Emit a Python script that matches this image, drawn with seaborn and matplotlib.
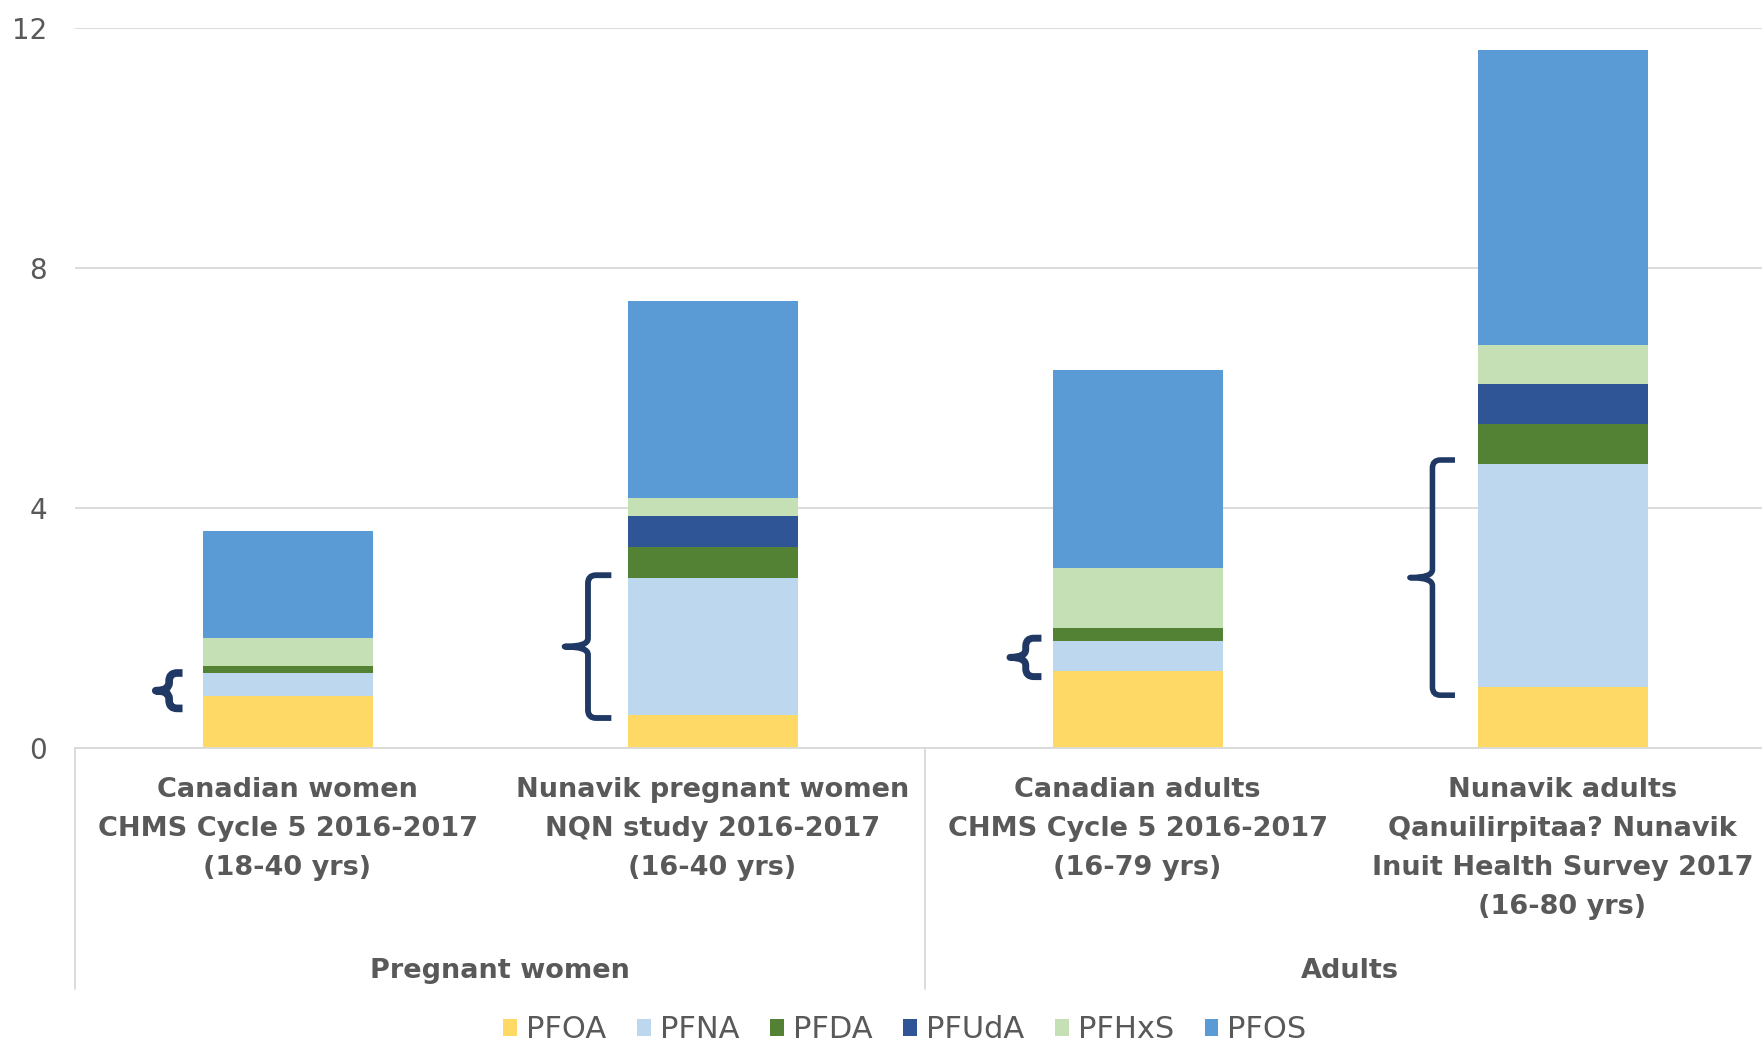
import matplotlib
matplotlib.use("Agg")
import matplotlib.pyplot as plt
import seaborn as sns
import pandas as pd
import numpy as np
from matplotlib.patches import Patch, PathPatch
from matplotlib.path import Path

# data (ng/mL, stacked geometric means)
groups = ["Pregnant women", "Adults"]
group_pos = [0.5, 2.5]
categories = [
    "Canadian women\nCHMS Cycle 5 2016-2017\n(18-40 yrs)",
    "Nunavik pregnant women\nNQN study 2016-2017\n(16-40 yrs)",
    "Canadian adults\nCHMS Cycle 5 2016-2017\n(16-79 yrs)",
    "Nunavik adults\nQanuilirpitaa? Nunavik\nInuit Health Survey 2017\n(16-80 yrs)",
]
compounds = ["PFOA", "PFNA", "PFDA", "PFUdA", "PFHxS", "PFOS"]
pfoa = [0.86, 0.55, 1.29, 1.02]
pfna = [0.39, 2.29, 0.50, 3.71]
pfda = [0.12, 0.51, 0.21, 0.67]
pfuda = [0.0, 0.52, 0.0, 0.66]
pfhxs = [0.47, 0.29, 1.00, 0.65]
pfos = [1.77, 3.29, 3.30, 4.92]
colors = ["#FFD966", "#BDD7EE", "#548235", "#2F5597", "#C5E0B4", "#5B9BD5"]

# curly braces next to the PFNA segment (value range, x offsets from bar centre)
brace_lo = [0.66, 0.50, 1.19, 0.88]
brace_hi = [1.25, 2.88, 1.83, 4.80]
brace_tip = [-0.31, -0.348, -0.30, -0.359]
brace_end = [-0.247, -0.238, -0.226, -0.253]
brace_lw = [5.5, 4.2, 5.0, 4.0]

GRAY = "#595959"
LINE = "#D9D9D9"
NAVY = "#203864"

sns.set_style("white")
plt.rcParams["font.family"] = ["DejaVu Sans"]

values = np.array([pfoa, pfna, pfda, pfuda, pfhxs, pfos])
tops = values.cumsum(axis=0)
rows = []
for k, name in enumerate(compounds):
    for i in range(len(categories)):
        rows.append({"cat": i, "compound": name, "top": tops[k, i]})
df = pd.DataFrame(rows)

fig = plt.figure(figsize=(17.62, 10.43), dpi=100)
ax = fig.add_axes([75 / 1762, 295 / 1043, 1700 / 1762, 720 / 1043])

# stacked bars: draw cumulative totals from the top layer down
for k in range(len(compounds) - 1, -1, -1):
    sub = df[df["compound"] == compounds[k]]
    sns.barplot(data=sub, x="cat", y="top", color=colors[k], width=0.4,
                errorbar=None, linewidth=0, saturation=1, ax=ax)

ax.set_xlim(-0.5, 3.5)
ax.set_ylim(0, 12)
ax.set_yticks([0, 4, 8, 12])
ax.set_xticks([])
ax.set_xlabel("")
ax.set_ylabel("")
ax.yaxis.grid(True, color=LINE, linewidth=1.3)
ax.set_axisbelow(True)
for s in ["top", "right", "left"]:
    ax.spines[s].set_visible(False)
ax.spines["bottom"].set_color(LINE)
ax.spines["bottom"].set_linewidth(1.3)
ax.tick_params(axis="y", length=0, pad=20, labelsize=20, labelcolor=GRAY)

# braces with rounded corners
rx, ry = 8 / 425, 8 / 60
for i in range(len(categories)):
    lo, hi = brace_lo[i], brace_hi[i]
    mid = (lo + hi) / 2
    xt = i + brace_tip[i]
    xe = i + brace_end[i]
    xv = (xt + xe) / 2
    verts = [(xe, hi), (xv + rx, hi), (xv, hi), (xv, hi - ry),
             (xv, mid + ry), (xv, mid), (xt, mid),
             (xv, mid), (xv, mid - ry),
             (xv, lo + ry), (xv, lo), (xv + rx, lo), (xe, lo)]
    codes = [Path.MOVETO, Path.LINETO, Path.CURVE3, Path.CURVE3,
             Path.LINETO, Path.CURVE3, Path.CURVE3,
             Path.CURVE3, Path.CURVE3,
             Path.LINETO, Path.CURVE3, Path.CURVE3, Path.LINETO]
    ax.add_patch(PathPatch(Path(verts, codes), facecolor="none", edgecolor=NAVY,
                           lw=brace_lw[i], joinstyle="round", capstyle="butt",
                           zorder=5))

# multi-level category axis
tr = ax.get_xaxis_transform()
for i, lab in enumerate(categories):
    ax.text(i, -0.040, lab, transform=tr, ha="center", va="top",
            fontsize=19.5, fontweight="bold", color=GRAY, linespacing=1.66)
for g, pos in zip(groups, group_pos):
    ax.text(pos, -0.31, g, transform=tr, ha="center", va="center",
            fontsize=19.5, fontweight="bold", color=GRAY)
for xsep in [-0.5, 1.5, 3.5]:
    ax.plot([xsep, xsep], [0, -0.335], transform=tr, color=LINE, lw=1.3,
            clip_on=False)

handles = [Patch(facecolor=c, edgecolor="none") for c in colors]
fig.legend(handles, compounds, loc="center", bbox_to_anchor=(905 / 1762, 1 - 1030 / 1043),
           ncol=6, frameon=False, fontsize=22, handlelength=0.45, handleheight=0.45,
           handletextpad=0.3, columnspacing=1.0, labelcolor=GRAY)

fig.savefig("out.png", dpi=100)
